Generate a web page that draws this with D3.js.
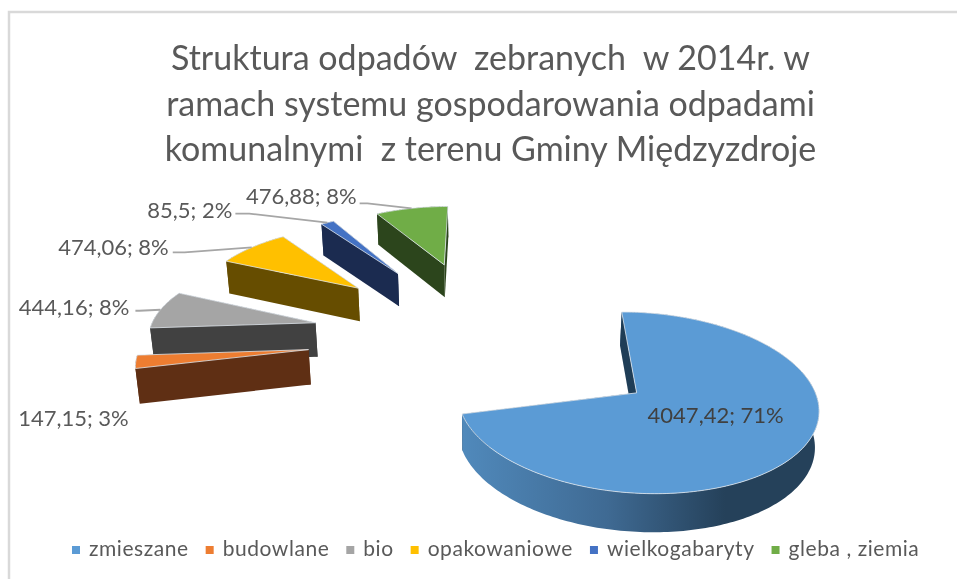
<!DOCTYPE html>
<html><head><meta charset="utf-8">
<script src="https://cdn.jsdelivr.net/npm/d3@7"></script>
<style>html,body{margin:0;padding:0;background:#fff}svg{display:block;filter:blur(0.45px)}text{font-family:Lato,"Open Sans",sans-serif;fill:#595959}</style>
</head><body><div id="c"></div>
<script>
const categories=["zmieszane","budowlane","bio","opakowaniowe","wielkogabaryty","gleba , ziemia"];
const values=[4047.42,147.15,444.16,474.06,85.5,476.88];
const valueLabels=["4047,42","147,15","444,16","474,06","85,5","476,88"];
const percentLabels=["71%","3%","8%","8%","2%","8%"];
const titleLines=["Struktura odpadów  zebranych  w 2014r. w","ramach systemu gospodarowania odpadami","komunalnymi  z terenu Gminy Międzyzdroje"];
const topColors=["#5b9bd5","#ed7d31","#a5a5a5","#ffc000","#4472c4","#70ad47"];
const wallColors=["#1f3d56","#5f2f14","#414141","#664d00","#1b2b50","#2c451c"];
const explosion=[1.075,1.06,1.06,1.06,1.06,1.06];
// label offset (text anchor relative to the arc midpoint of its slice), leader start offset
const labelOffset=[null,[-7,57],[-31,-2],[-83,1],[-95,-12],[-55,-11]];
const leaderOffset=[null,null,[-25,1],[-79,5],[-92,-9],[-52,-5]];

const W=957,H=579;
const svg=d3.select("#c").append("svg").attr("width",W).attr("height",H);
const defs=svg.append("defs");
const grad=defs.append("linearGradient").attr("id","rim").attr("gradientUnits","userSpaceOnUse").attr("x1",463).attr("x2",725).attr("y1",0).attr("y2",0);
grad.append("stop").attr("offset",0).attr("stop-color","#5089bb");
grad.append("stop").attr("offset",0.55).attr("stop-color","#3f6a93");
grad.append("stop").attr("offset",1).attr("stop-color","#25415a");

// frame
svg.append("rect").attr("x",9).attr("y",12).attr("width",W).attr("height",H).attr("fill","none").attr("stroke","#d9d9d9").attr("stroke-width",2.5);

// title
svg.append("g").selectAll("text").data(titleLines).join("text")
  .attr("x",490.5).attr("y",(d,i)=>70+i*45.5).attr("text-anchor","middle")
  .attr("font-size",34).attr("xml:space","preserve").style("white-space","pre").text(d=>d);

// perspective plane: pie-plane (u,v) -> screen
const X0=486,Y0=394,A=179,B=90,P=0.11,VC=-0.68,DEPTH=36,SHRINK=0.0125;
const project=(u,v)=>{const w=1-P*v;return [X0+A*u/w,Y0+B*v/w,w];};
const down=p=>[X0+(p[0]-X0)*(1-SHRINK),p[1]+DEPTH/Math.pow(p[2],0.6)];
const pie=d3.pie().sort(null).startAngle(0).endAngle(2*Math.PI);
const arcs=pie(values);
const lineGen=d3.line();

const gPie=svg.append("g");
const order=[5,4,3,2,1,0];
const mids=[];
arcs.forEach((a,i)=>{const m=(a.startAngle+a.endAngle)/2;
  const ax=explosion[i]*Math.sin(m),ay=VC-explosion[i]*Math.cos(m);
  const at=t=>project(ax+Math.sin(t),ay-Math.cos(t));
  mids[i]=at(m);a.apex=project(ax,ay);a.at=at;});
order.forEach(i=>{const a=arcs[i];
  const n=Math.max(4,Math.ceil((a.endAngle-a.startAngle)/0.02));
  const rim=d3.range(n+1).map(k=>a.at(a.startAngle+(a.endAngle-a.startAngle)*k/n));
  const apex=a.apex,g=gPie.append("g");
  const poly=(pts,fill)=>g.append("path").attr("d",lineGen(pts.map(p=>[p[0],p[1]]))+"Z").attr("fill",fill);
  const first=rim[0],last=rim[n];
  poly([last,down(last),down(apex),apex],wallColors[i]);
  poly(rim.concat(rim.slice().reverse().map(down)),i===0?"url(#rim)":wallColors[i]);
  poly([first,down(first),down(apex),apex],wallColors[i]);
  g.append("path").attr("d",lineGen([apex].concat(rim).map(p=>[p[0],p[1]]))+"Z")
   .attr("fill",topColors[i]).attr("stroke","#dfe6ec").attr("stroke-width",0.8).attr("stroke-linejoin","round");
});

// leader lines
const leaders=svg.append("g");
arcs.forEach((a,i)=>{if(!leaderOffset[i])return;const m=mids[i],o=leaderOffset[i];
  const s=[m[0]+o[0],m[1]+o[1]];
  leaders.append("path").attr("d",lineGen([s,[s[0]+(m[0]-s[0])*0.15,s[1]],[m[0],m[1]]])).attr("fill","none").attr("stroke","#a6a6a6").attr("stroke-width",1.8);
});

// data labels
const lbl=svg.append("g");
arcs.forEach((a,i)=>{
  const t=lbl.append("text").attr("font-size",22).text(valueLabels[i]+"; "+percentLabels[i]);
  if(i===0){t.attr("text-anchor","middle").attr("x",a.apex[0]+79).attr("y",a.apex[1]+30).style("fill","#404040");}
  else{const o=labelOffset[i],m=mids[i];t.attr("text-anchor","end").attr("x",m[0]+o[0]).attr("y",m[1]+o[1]+7);}
});

// legend (flow layout)
const leg=svg.append("g");
let cx=72;
categories.forEach((c,i)=>{
  leg.append("rect").attr("x",cx).attr("y",546).attr("width",8).attr("height",8).attr("fill",topColors[i]);
  const t=leg.append("text").attr("x",cx+17).attr("y",556).attr("font-size",21).attr("letter-spacing",0.55).text(c);
  cx+=17+t.node().getComputedTextLength()+17;
});
</script></body></html>
